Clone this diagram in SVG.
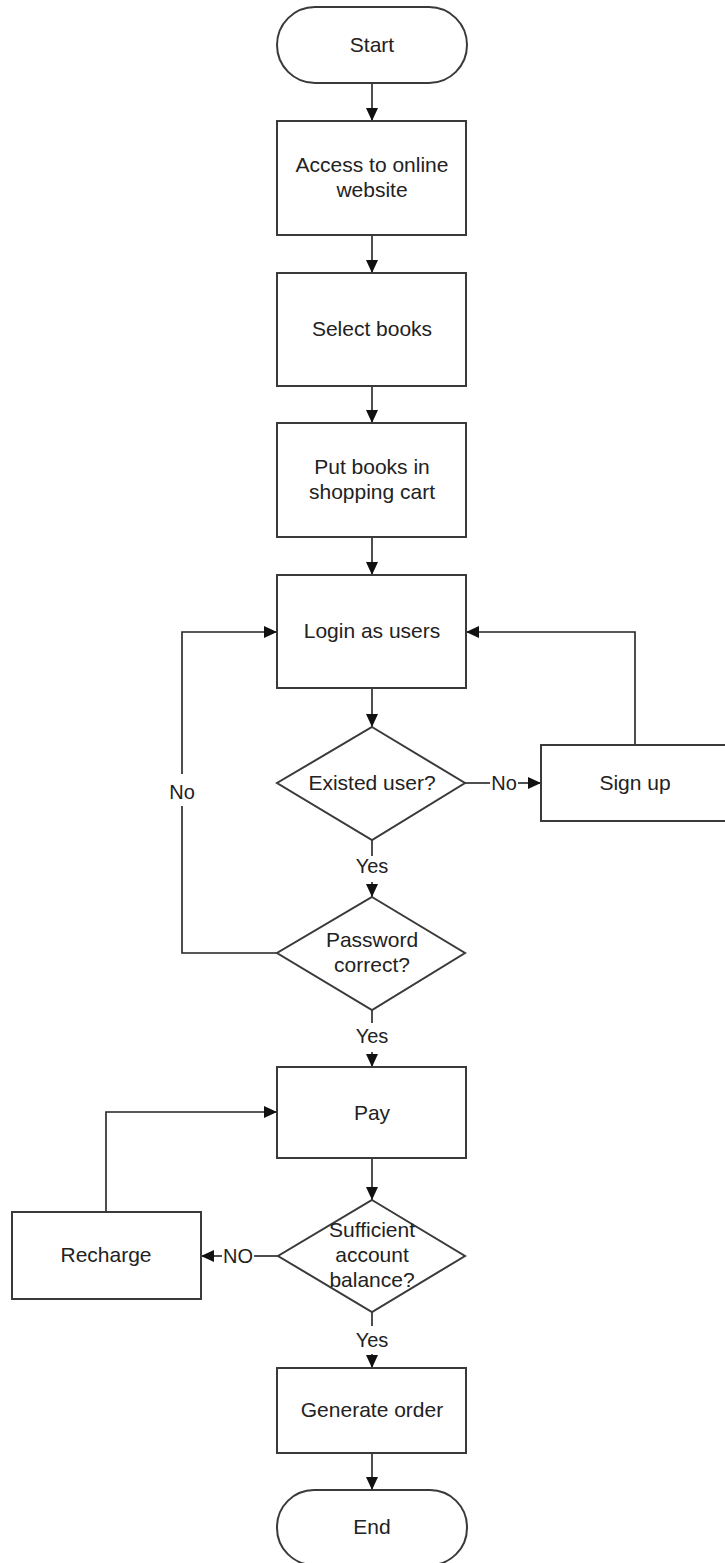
<svg xmlns="http://www.w3.org/2000/svg" width="725" height="1563" viewBox="0 0 725 1563">
<defs>
<marker id="arr" markerUnits="userSpaceOnUse" markerWidth="14" markerHeight="12" refX="13" refY="6" orient="auto">
<path d="M0,0 L13,6 L0,12 z" fill="#111"/>
</marker>
<style>
.shape{fill:#fff;stroke:#3a3a3a;stroke-width:2}
.t{font-family:"Liberation Sans",Arial,sans-serif;font-size:21px;fill:#222;text-anchor:middle}
.lbl{font-family:"Liberation Sans",Arial,sans-serif;font-size:20px;fill:#222;text-anchor:middle}
.c{fill:none;stroke:#222;stroke-width:1.6}
.ca{fill:none;stroke:#222;stroke-width:1.6;marker-end:url(#arr)}
</style>
</defs>
<rect width="725" height="1563" fill="#fff"/>
<g id="connectors">
<path class="ca" d="M372,83 L372,121"/>
<path class="ca" d="M372,235 L372,273"/>
<path class="ca" d="M372,386 L372,423"/>
<path class="ca" d="M372,537 L372,575"/>
<path class="ca" d="M372,688 L372,727"/>
<path class="c" d="M372,840 L372,856"/>
<text class="lbl" x="372" y="873">Yes</text>
<path class="ca" d="M372,882 L372,897"/>
<path class="c" d="M372,1010 L372,1023"/>
<text class="lbl" x="372" y="1043">Yes</text>
<path class="ca" d="M372,1052 L372,1067"/>
<path class="c" d="M277,953 L182,953 L182,806"/>
<text class="lbl" x="182" y="799">No</text>
<path class="ca" d="M182,774 L182,632 L277,632"/>
<path class="c" d="M465,783 L490,783"/>
<text class="lbl" x="504" y="790">No</text>
<path class="ca" d="M518,783 L541,783"/>
<path class="ca" d="M635,745 L635,632 L466,632"/>
<path class="ca" d="M372,1158 L372,1200"/>
<path class="c" d="M278,1256 L254,1256"/>
<text class="lbl" x="238" y="1263">NO</text>
<path class="ca" d="M222,1256 L201,1256"/>
<path class="ca" d="M106,1212 L106,1112 L277,1112"/>
<path class="c" d="M372,1312 L372,1326"/>
<text class="lbl" x="372" y="1347">Yes</text>
<path class="ca" d="M372,1354 L372,1368"/>
<path class="ca" d="M372,1453 L372,1490"/>
</g>
<g id="start">
<rect class="shape" x="277" y="7" width="190" height="76" rx="38" ry="38"/>
<text class="t" x="372" y="52">Start</text>
</g>
<g id="access">
<rect class="shape" x="277" y="121" width="189" height="114"/>
<text class="t" x="372" y="172">Access to online</text>
<text class="t" x="372" y="197">website</text>
</g>
<g id="select">
<rect class="shape" x="277" y="273" width="189" height="113"/>
<text class="t" x="372" y="336">Select books</text>
</g>
<g id="cart">
<rect class="shape" x="277" y="423" width="189" height="114"/>
<text class="t" x="372" y="474">Put books in</text>
<text class="t" x="372" y="499">shopping cart</text>
</g>
<g id="login">
<rect class="shape" x="277" y="575" width="189" height="113"/>
<text class="t" x="372" y="638">Login as users</text>
</g>
<g id="existed">
<polygon class="shape" points="372,727 465,783 372,840 277,783"/>
<text class="t" x="372" y="790">Existed user?</text>
</g>
<g id="signup">
<rect class="shape" x="541" y="745" width="190" height="76"/>
<text class="t" x="635" y="790">Sign up</text>
</g>
<g id="password">
<polygon class="shape" points="372,897 465,953 372,1010 277,953"/>
<text class="t" x="372" y="947">Password</text>
<text class="t" x="372" y="972">correct?</text>
</g>
<g id="pay">
<rect class="shape" x="277" y="1067" width="189" height="91"/>
<text class="t" x="372" y="1120">Pay</text>
</g>
<g id="sufficient">
<polygon class="shape" points="372,1200 465,1256 372,1312 278,1256"/>
<text class="t" x="372" y="1237">Sufficient</text>
<text class="t" x="372" y="1262">account</text>
<text class="t" x="372" y="1287">balance?</text>
</g>
<g id="recharge">
<rect class="shape" x="12" y="1212" width="189" height="87"/>
<text class="t" x="106" y="1262">Recharge</text>
</g>
<g id="generate">
<rect class="shape" x="277" y="1368" width="189" height="85"/>
<text class="t" x="372" y="1417">Generate order</text>
</g>
<g id="end">
<rect class="shape" x="277" y="1490" width="190" height="75" rx="37" ry="37"/>
<text class="t" x="372" y="1534">End</text>
</g>
</svg>
